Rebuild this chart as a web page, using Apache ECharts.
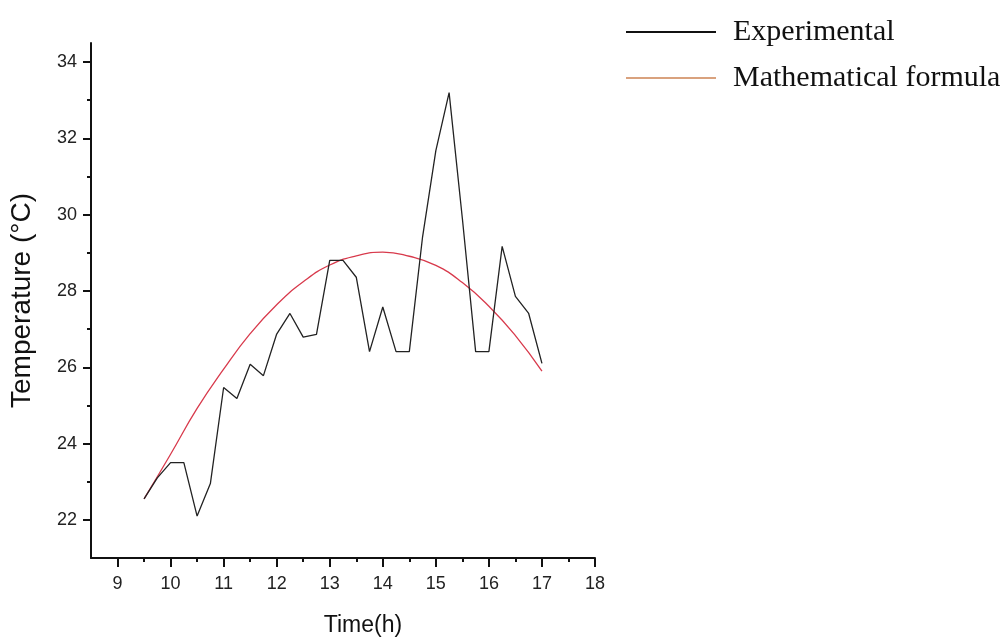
<!DOCTYPE html>
<html>
<head>
<meta charset="utf-8">
<script src="https://cdn.jsdelivr.net/npm/echarts@6/dist/echarts.min.js"></script>
<style>html,body{margin:0;padding:0;background:#fff;}#c{width:1008px;height:642px;}</style>
</head>
<body>
<div id="c"></div>
<script>
// Experimental measurements (every 15 min)
const expTimes = [9.5, 9.75, 10, 10.25, 10.5, 10.75, 11, 11.25, 11.5, 11.75, 12, 12.25, 12.5, 12.75, 13, 13.25, 13.5, 13.75, 14, 14.25, 14.5, 14.75, 15, 15.25, 15.5, 15.75, 16, 16.25, 16.5, 16.75, 17];
const expTemps = [22.55, 23.1, 23.5, 23.5, 22.1, 22.95, 25.47, 25.18, 26.08, 25.78, 26.87, 27.41, 26.79, 26.86, 28.8, 28.8, 28.36, 26.41, 27.58, 26.41, 26.41, 29.42, 31.68, 33.2, 29.9, 26.41, 26.41, 29.17, 27.86, 27.41, 26.1];
// Mathematical formula curve (every 30 min)
const fTimes = [9.5, 10, 10.5, 11, 11.5, 12, 12.5, 13, 13.5, 14, 14.5, 15, 15.5, 16, 16.5, 17];
const fTemps = [22.55, 23.72, 24.92, 25.95, 26.88, 27.64, 28.24, 28.68, 28.92, 29.02, 28.91, 28.67, 28.22, 27.6, 26.83, 25.9];
// Axis ticks and labels
const xMajor = [9, 10, 11, 12, 13, 14, 15, 16, 17, 18];
const xMinor = [9.5, 10.5, 11.5, 12.5, 13.5, 14.5, 15.5, 16.5, 17.5];
const yMajor = [22, 24, 26, 28, 30, 32, 34];
const yMinor = [23, 25, 27, 29, 31, 33];

const chart = echarts.init(document.getElementById('c'), null, {renderer: 'canvas'});
const sans = 'Liberation Sans, Arial, sans-serif';
const serif = 'Liberation Serif, Times New Roman, serif';
const X_MIN = 8.5, X_MAX = 18, Y_MIN = 21, Y_MAX = 34.5;

chart.setOption({
  animation: false,
  backgroundColor: '#fff',
  grid: {left: 90, right: 413, top: 43, bottom: 84, containLabel: false},
  legend: {
    orient: 'vertical',
    left: 626,
    top: 15,
    padding: 0,
    itemGap: 12,
    itemWidth: 90,
    itemHeight: 2,
    icon: 'rect',
    textStyle: {fontFamily: serif, fontSize: 30, color: '#111', lineHeight: 34, padding: [0, 0, 0, 12]},
    data: [
      {name: 'Experimental', itemStyle: {color: '#111'}},
      {name: 'Mathematical formula', itemStyle: {color: '#d9a27e'}}
    ]
  },
  xAxis: [
    {
      type: 'value', min: X_MIN, max: X_MAX, position: 'bottom',
      name: 'Time(h)', nameLocation: 'middle', nameGap: 56,
      nameTextStyle: {fontFamily: sans, fontSize: 23, color: '#111', padding: [0, 0, 0, 40]},
      axisLine: {show: true, onZero: false, lineStyle: {color: '#111', width: 2}},
      axisTick: {show: true, inside: false, length: 9, customValues: xMajor, lineStyle: {color: '#111', width: 2}},
      axisLabel: {show: true, customValues: xMajor, margin: 17, fontFamily: sans, fontSize: 18, color: '#222'},
      splitLine: {show: false}
    },
    {
      type: 'value', min: X_MIN, max: X_MAX, position: 'bottom',
      axisLine: {show: false},
      axisTick: {show: true, length: 4, customValues: xMinor, lineStyle: {color: '#111', width: 2}},
      axisLabel: {show: false},
      splitLine: {show: false}
    }
  ],
  yAxis: [
    {
      type: 'value', min: Y_MIN, max: Y_MAX, position: 'left',
      name: 'Temperature (°C)', nameLocation: 'middle', nameGap: 55, nameRotate: 90,
      nameTextStyle: {fontFamily: sans, fontSize: 28, color: '#111'},
      axisLine: {show: true, onZero: false, lineStyle: {color: '#111', width: 2}},
      axisTick: {show: true, inside: false, length: 8, customValues: yMajor, lineStyle: {color: '#111', width: 2}},
      axisLabel: {show: true, customValues: yMajor, margin: 14, fontFamily: sans, fontSize: 18, color: '#222'},
      splitLine: {show: false}
    },
    {
      type: 'value', min: Y_MIN, max: Y_MAX, position: 'left',
      axisLine: {show: false},
      axisTick: {show: true, length: 4, customValues: yMinor, lineStyle: {color: '#111', width: 2}},
      axisLabel: {show: false},
      splitLine: {show: false}
    }
  ],
  series: [
    {
      name: 'Experimental', type: 'line', xAxisIndex: 0, yAxisIndex: 0,
      data: expTimes.map((t, i) => [t, expTemps[i]]),
      symbol: 'none', showSymbol: false,
      lineStyle: {color: '#222', width: 1.3},
      itemStyle: {color: '#111'},
      z: 3
    },
    {
      name: 'Mathematical formula', type: 'line', xAxisIndex: 0, yAxisIndex: 0,
      data: fTimes.map((t, i) => [t, fTemps[i]]),
      smooth: true,
      symbol: 'none', showSymbol: false,
      lineStyle: {color: '#d83a4c', width: 1.3},
      itemStyle: {color: '#d9a27e'},
      z: 2
    }
  ]
});
</script>
</body>
</html>
